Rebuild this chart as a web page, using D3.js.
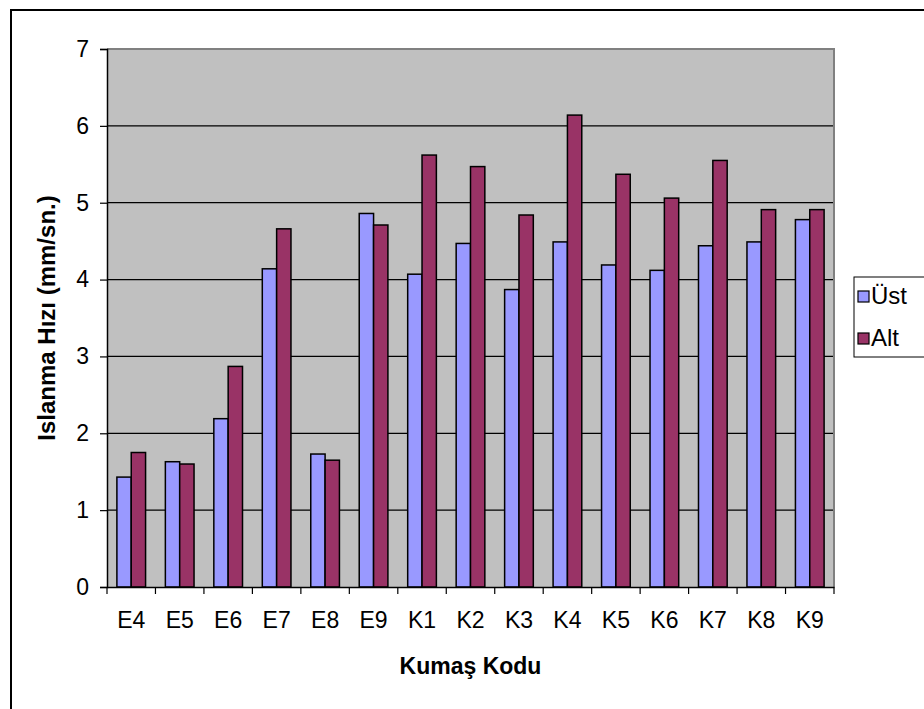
<!DOCTYPE html>
<html>
<head>
<meta charset="utf-8">
<script src="https://cdn.jsdelivr.net/npm/d3@7"></script>
<style>
  html, body { margin: 0; padding: 0; background: #ffffff; }
  svg { display: block; font-family: Arial, "Liberation Sans", sans-serif; }
</style>
</head>
<body>
<svg id="chart" width="924" height="709"></svg>
<script>
// Wetting speed per fabric code, upper and lower surfaces
const categories = ["E4", "E5", "E6", "E7", "E8", "E9", "K1", "K2", "K3", "K4", "K5", "K6", "K7", "K8", "K9"];
const ustValues = [1.43, 1.63, 2.19, 4.14, 1.73, 4.86, 4.07, 4.47, 3.87, 4.49, 4.19, 4.12, 4.44, 4.49, 4.78];
const altValues = [1.75, 1.60, 2.87, 4.66, 1.65, 4.71, 5.62, 5.47, 4.84, 6.14, 5.37, 5.06, 5.55, 4.91, 4.91];
const seriesNames = ["Üst", "Alt"];
const yTicks = [0, 1, 2, 3, 4, 5, 6, 7];

const colors = { "Üst": "#9999FF", "Alt": "#993366" };
const FONT = "Arial, 'Liberation Sans', sans-serif";
const svg = d3.select("#chart");

// outer chart frame
svg.append("rect")
  .attr("x", 11).attr("y", 10)
  .attr("width", 930).attr("height", 720)
  .attr("fill", "none").attr("stroke", "#000").attr("stroke-width", 2);

const plot = { left: 107, right: 834, top: 49, bottom: 587 };

const x = d3.scaleBand().domain(categories).range([plot.left, plot.right]).paddingInner(0).paddingOuter(0);
const inner = d3.scaleBand().domain(seriesNames).range([0, x.bandwidth()]).paddingInner(0).paddingOuter(0.69);
const y = d3.scaleLinear().domain([0, 7]).range([plot.bottom, plot.top]);

// plot background
svg.append("rect")
  .attr("x", plot.left).attr("y", plot.top)
  .attr("width", plot.right - plot.left).attr("height", plot.bottom - plot.top)
  .attr("fill", "#C0C0C0");

// horizontal gridlines
svg.append("g")
  .selectAll("line")
  .data(yTicks.filter(t => t > 0 && t < 7))
  .join("line")
  .attr("x1", plot.left).attr("x2", plot.right)
  .attr("y1", d => y(d)).attr("y2", d => y(d))
  .attr("stroke", "#000").attr("stroke-width", 1.2);

// top and right edges of the plot area
svg.append("path")
  .attr("d", `M${plot.left},${plot.top}H${plot.right}V${plot.bottom}`)
  .attr("fill", "none").attr("stroke", "#808080").attr("stroke-width", 2);

// bars
const rows = categories.map((c, i) => ({ cat: c, vals: [
  { name: "Üst", v: ustValues[i] },
  { name: "Alt", v: altValues[i] }
]}));

svg.append("g")
  .selectAll("g")
  .data(rows)
  .join("g")
  .attr("transform", d => `translate(${x(d.cat)},0)`)
  .selectAll("rect")
  .data(d => d.vals)
  .join("rect")
  .attr("x", d => inner(d.name))
  .attr("width", inner.bandwidth())
  .attr("y", d => y(d.v))
  .attr("height", d => y(0) - y(d.v))
  .attr("fill", d => colors[d.name])
  .attr("stroke", "#000").attr("stroke-width", 1.5);

// y axis
const yAxis = d3.axisLeft(y).tickValues(yTicks).tickFormat(d3.format("d")).tickSize(7).tickPadding(11);
const yg = svg.append("g").attr("transform", `translate(${plot.left},0)`).call(yAxis);
yg.select(".domain").attr("stroke", "#000").attr("stroke-width", 1.5);
yg.selectAll(".tick line").attr("stroke", "#000").attr("stroke-width", 1.2);
yg.selectAll(".tick text").attr("font-size", 23).attr("fill", "#000").attr("font-family", FONT);

// x axis with ticks between categories
const xAxis = d3.axisBottom(x).tickSize(0).tickPadding(25);
const xg = svg.append("g").attr("transform", `translate(0,${plot.bottom})`).call(xAxis);
xg.select(".domain").attr("stroke", "#000").attr("stroke-width", 1.5);
xg.selectAll(".tick text").attr("font-size", 23).attr("fill", "#000").attr("font-family", FONT);
xg.append("g")
  .selectAll("line")
  .data(d3.range(categories.length + 1))
  .join("line")
  .attr("x1", i => plot.left + i * x.step())
  .attr("x2", i => plot.left + i * x.step())
  .attr("y1", 0).attr("y2", 7)
  .attr("stroke", "#000").attr("stroke-width", 1.2);

// axis titles
svg.append("text")
  .attr("x", (plot.left + plot.right) / 2).attr("y", 674)
  .attr("text-anchor", "middle")
  .attr("font-size", 23).attr("font-weight", "bold")
  .text("Kumaş Kodu");

svg.append("text")
  .attr("transform", `translate(55,${(plot.top + plot.bottom) / 2}) rotate(-90)`)
  .attr("text-anchor", "middle")
  .attr("font-size", 24).attr("font-weight", "bold")
  .text("Islanma Hızı (mm/sn.)");

// legend
const legend = svg.append("g");
legend.append("rect")
  .attr("x", 854).attr("y", 277).attr("width", 90).attr("height", 80)
  .attr("fill", "#fff").attr("stroke", "#000").attr("stroke-width", 1);
const items = legend.selectAll("g.item")
  .data(seriesNames)
  .join("g").attr("class", "item")
  .attr("transform", (d, i) => `translate(858,${291 + i * 42})`);
items.append("rect")
  .attr("width", 11).attr("height", 11)
  .attr("fill", d => colors[d]).attr("stroke", "#000").attr("stroke-width", 1.2);
items.append("text")
  .attr("x", 13).attr("y", 13)
  .attr("font-size", 24)
  .text(d => d);
</script>
</body>
</html>
